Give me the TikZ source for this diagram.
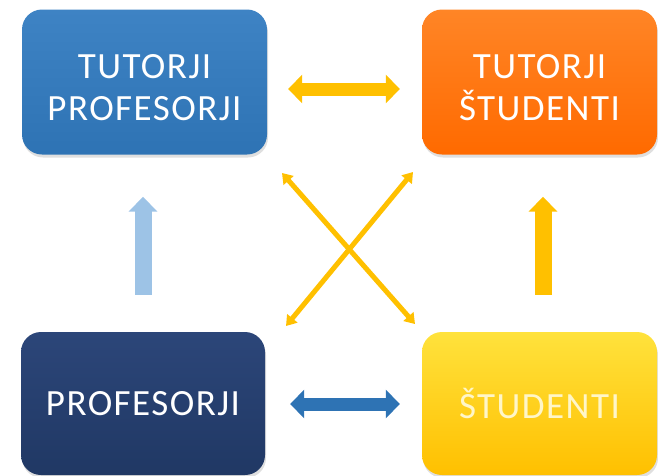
\documentclass[tikz,border=0pt]{standalone}
\usepackage{fontspec}
\setmainfont{Carlito}[LetterSpace=4]
\usepackage{xcolor}
\usetikzlibrary{arrows.meta,shadows}

\definecolor{tpblue}{HTML}{2E73B4}
\definecolor{tpbluetop}{HTML}{3E83C4}
\definecolor{tsorange}{HTML}{FF6A00}
\definecolor{tsorangetop}{HTML}{FF8526}
\definecolor{profnavy}{HTML}{203864}
\definecolor{profnavytop}{HTML}{2C4679}
\definecolor{studyellow}{HTML}{FFC000}
\definecolor{studyellowtop}{HTML}{FFE23C}
\definecolor{lightblue}{HTML}{9DC3E6}
\definecolor{studtext}{HTML}{FFF6C8}

\begin{document}
\begin{tikzpicture}[x=1pt,y=-1pt,
  box/.style={rounded corners=20pt, inner sep=0pt, align=center,
    text=white, font=\fontsize{37}{42}\selectfont,
    drop shadow={shadow xshift=1pt, shadow yshift=-3pt, opacity=.25}},
  bigarrow/.style={line width=13pt,
    {Triangle[width=28pt,length=14pt]}-{Triangle[width=28pt,length=14pt]}},
  uparrow/.style={line width=17pt, -{Triangle[width=28pt,length=15pt]}},
  crossarrow/.style={line width=5pt, studyellow,
    {Triangle[width=13pt,length=10pt]}-{Triangle[width=13pt,length=10pt]}}]
  \useasboundingbox (0,0) rectangle (658,475);

  \node[box, minimum width=245pt, minimum height=145pt,
    top color=tpbluetop, bottom color=tpblue] (tp) at (144.5,82) {\rule{0pt}{35pt}TUTORJI\\PROFESORJI};
  \node[box, minimum width=235pt, minimum height=145pt,
    top color=tsorangetop, bottom color=tsorange] (ts) at (539.5,82) {\rule{0pt}{35pt}TUTORJI\\ŠTUDENTI};
  \node[box, minimum width=244pt, minimum height=143pt,
    top color=profnavytop, bottom color=profnavy] (prof) at (143,403.5) {PROFESORJI};
  \node[box, minimum width=235pt, minimum height=143pt, text=studtext,
    top color=studyellowtop, middle color=studyellow, bottom color=studyellow] (stud) at (539.5,403.5) {ŠTUDENTI};

  \coordinate (x1) at (282,173);
  \coordinate (x2) at (415,324);
  \coordinate (x3) at (413,172);
  \coordinate (x4) at (286,326);

  \draw[bigarrow, studyellow, shorten <=21pt, shorten >=22pt] (tp.east |- 0,89) -- (ts.west |- 0,89);
  \draw[bigarrow, tpblue, shorten <=25pt, shorten >=22pt] (prof.east |- 0,404) -- (stud.west |- 0,404);
  \draw[uparrow, lightblue, shorten <=37pt, shorten >=42pt] (prof.north) -- (prof.north |- tp.south);
  \draw[uparrow, studyellow, shorten <=37pt, shorten >=42pt] (stud.north -| 543,0) -- (ts.south -| 543,0);
  \draw[crossarrow] (x1) -- (x2);
  \draw[crossarrow] (x3) -- (x4);
\end{tikzpicture}
\end{document}
